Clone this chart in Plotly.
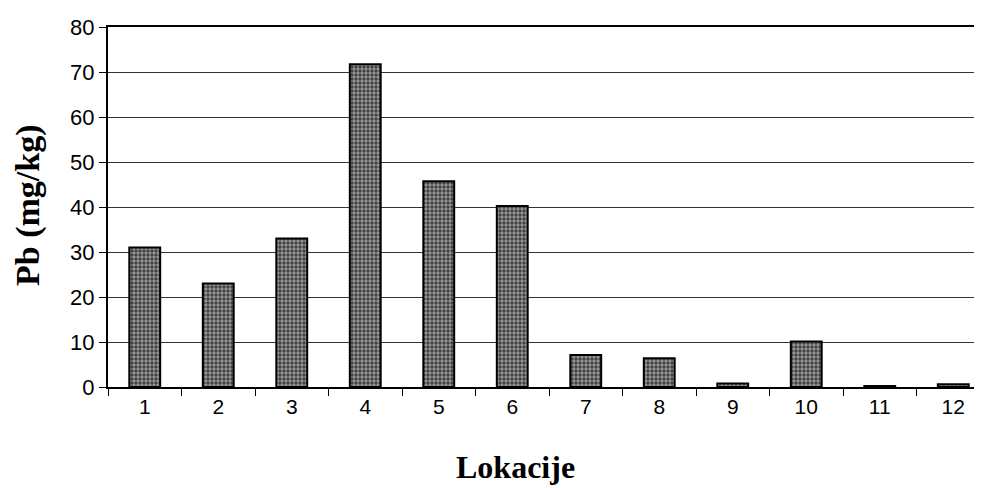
import plotly.graph_objects as go

categories = ["1", "2", "3", "4", "5", "6", "7", "8", "9", "10", "11", "12"]
pb_values = [31, 23, 33, 71.7, 45.7, 40.2, 7.1, 6.4, 0.8, 10.1, 0.2, 0.6]
y_ticks = [0, 10, 20, 30, 40, 50, 60, 70, 80]

# page body has an 8px default margin; compensate in figure margins
OFF = 8
L, T, B_PIX, R_PIX = 108, 27, 387, 990
PW, PH = R_PIX - L, B_PIX - T

fig = go.Figure()
fig.add_trace(go.Bar(
    x=categories, y=pb_values, width=0.42,
    marker=dict(
        color="#777777",
        line=dict(color="black", width=2),
        pattern=dict(shape=".", fgcolor="#eeeeee", bgcolor="#3a3a3a", size=4, solidity=0.55),
    ),
    showlegend=False,
))

fig.update_layout(
    width=982, height=488,
    margin=dict(l=L - OFF, r=0, t=T - OFF, b=488 - (B_PIX - OFF), autoexpand=False),
    plot_bgcolor="white", paper_bgcolor="white",
    xaxis=dict(
        type="category", tickson="boundaries", ticks="outside", ticklen=7,
        tickcolor="black", tickwidth=1, showline=True, linecolor="black", linewidth=2,
        mirror=True, showgrid=False, automargin=False,
        range=[-0.5, 11.5],
        tickfont=dict(family="Liberation Sans", size=21, color="black"),
    ),
    yaxis=dict(
        range=[0, 80], tickvals=y_ticks, ticks="outside", ticklen=7, tickcolor="black",
        showline=True, linecolor="black", linewidth=2, showgrid=True, gridcolor="#333333", gridwidth=1,
        zeroline=False, automargin=False,
        tickfont=dict(family="Liberation Sans", size=22, color="black"),
    ),
    annotations=[
        dict(text="<b>Lokacije</b>", xref="paper", yref="paper", x=(515 - L) / PW, y=(B_PIX - 467) / PH,
             xanchor="center", yanchor="middle", showarrow=False,
             font=dict(family="Liberation Serif", size=32, color="black")),
        dict(text="<b>Pb (mg/kg)</b>", xref="paper", yref="paper", x=(28 - L) / PW, y=(B_PIX - 205) / PH,
             xanchor="center", yanchor="middle", showarrow=False, textangle=-90,
             font=dict(family="Liberation Serif", size=34, color="black")),
    ],
)

fig.write_html("out.html")
